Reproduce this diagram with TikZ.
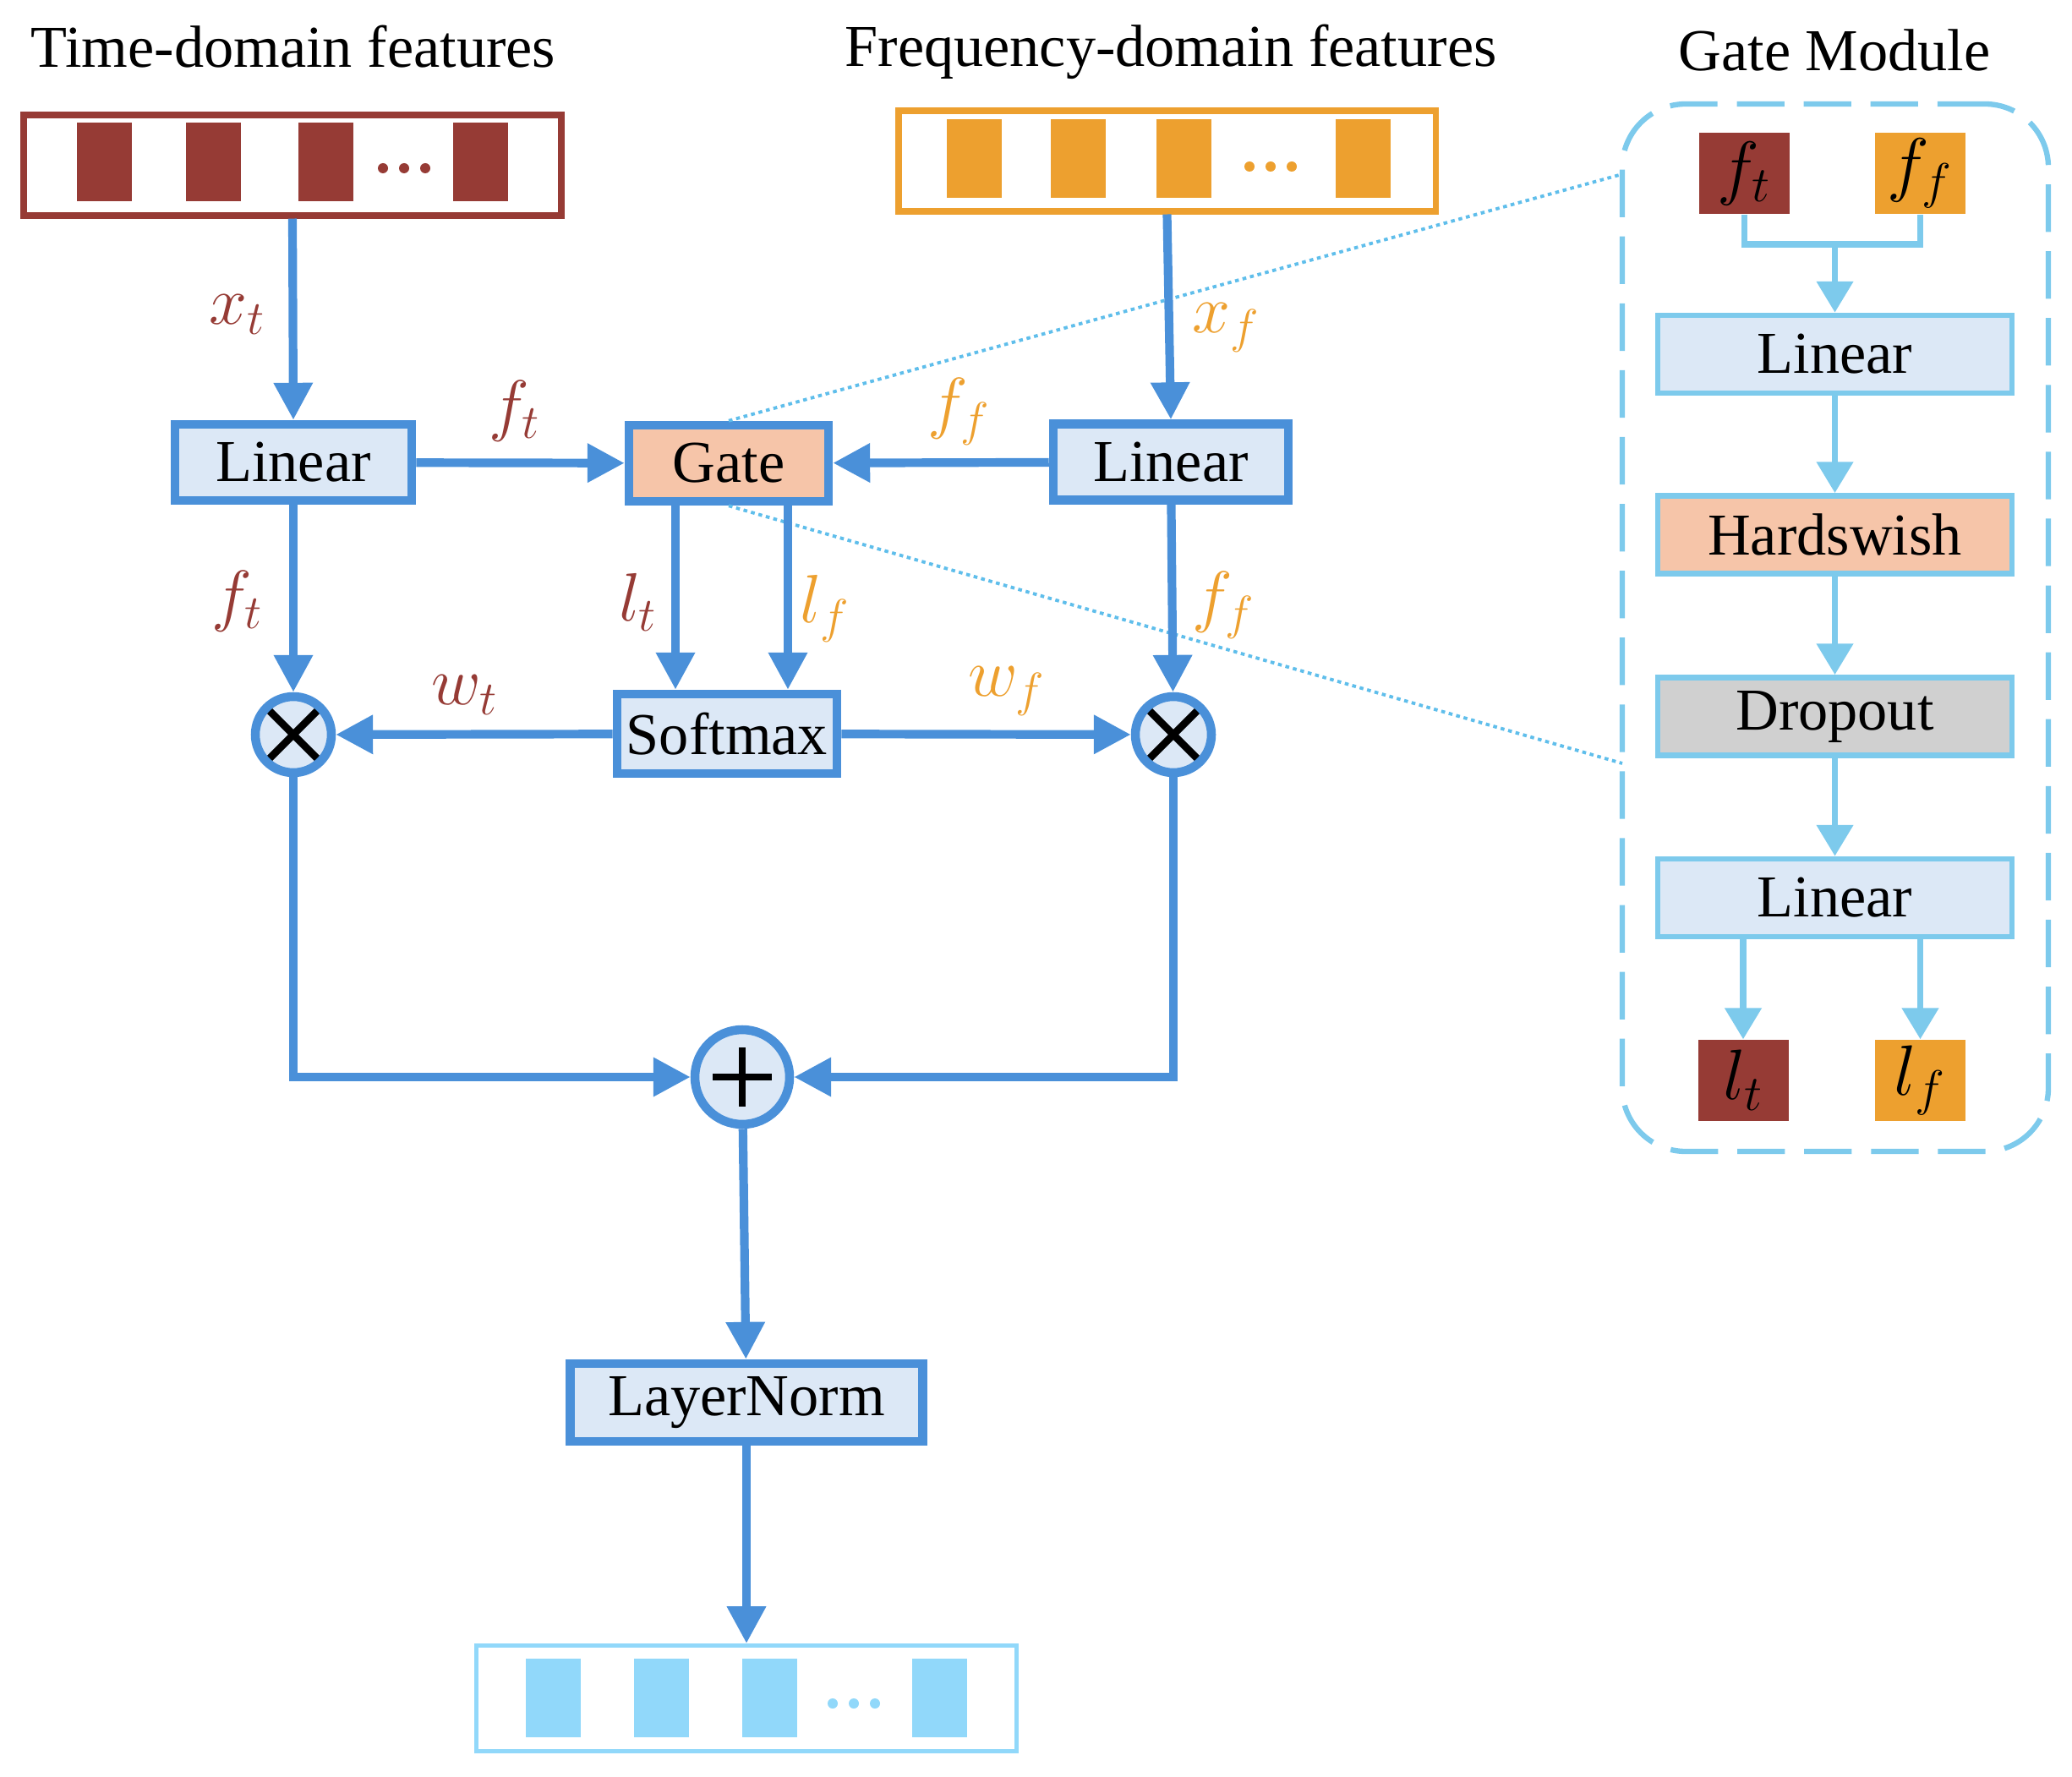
\RequirePackage{fix-cm}
\documentclass[tikz,border=0pt]{standalone}
\usepackage{fontspec}
\setmainfont{Liberation Serif}
\usepackage{amsmath}
\usepackage{xcolor}
\usepackage{tikz}
\usetikzlibrary{arrows.meta}
\definecolor{tred}{RGB}{150, 59, 53}
\definecolor{torange}{RGB}{237, 160, 47}
\definecolor{lineblue}{RGB}{74, 144, 217}
\definecolor{boxblue}{RGB}{220, 232, 246}
\definecolor{gatefill}{RGB}{246, 197, 169}
\definecolor{dropgray}{RGB}{208, 208, 208}
\definecolor{gmblue}{RGB}{125, 202, 236}
\definecolor{outblue}{RGB}{145, 216, 250}
\definecolor{dotblue}{RGB}{95, 190, 235}
\newcommand{\featbar}[3]{
\fill[#3] (#1-0.325,#2-0.465) rectangle (#1+0.325,#2+0.465);
}
\newcommand{\featdots}[3]{
\foreach \d in {-1,0,1} {\fill[#3] (#1+0.25*\d,#2) circle (0.06);}
}

\begin{document}
\begin{tikzpicture}[
    txt/.style={font=\fontsize{20}{24}\selectfont},
    lbl/.style={font=\fontsize{23}{27}\selectfont},
    mainbox/.style={txt, draw=lineblue, line width=3pt, fill=boxblue, inner sep=0pt, minimum height=0.9cm},
    featbox/.style={draw=#1, line width=2pt, fill=white, inner sep=0pt, minimum width=6.36cm, minimum height=1.19cm},
    opnode/.style={circle, draw=lineblue, line width=3pt, fill=boxblue, inner sep=0pt},
    mulnode/.style={opnode, minimum size=0.9cm, path picture={
        \draw[black, line width=2.5pt]
            ([shift={(-0.3,-0.3)}]path picture bounding box.center) -- ([shift={(0.3,0.3)}]path picture bounding box.center)
            ([shift={(-0.3,0.3)}]path picture bounding box.center) -- ([shift={(0.3,-0.3)}]path picture bounding box.center);
    }},
    addnode/.style={opnode, minimum size=1.12cm, path picture={
        \draw[black, line width=2.2pt]
            ([shift={(-0.35,0)}]path picture bounding box.center) -- ([shift={(0.35,0)}]path picture bounding box.center)
            ([shift={(0,0.35)}]path picture bounding box.center) -- ([shift={(0,-0.35)}]path picture bounding box.center);
    }},
    flow/.style={draw=lineblue, line width=2.9pt, -{Triangle[length=12.5pt, width=12.5pt]}},
    gmframe/.style={draw=gmblue, line width=1.8pt, dash pattern=on 16pt off 6.5pt, rounded corners=0.75cm, inner sep=0pt},
    gmbox/.style={txt, draw=gmblue, line width=1.9pt, fill=boxblue, inner sep=0pt, minimum width=4.19cm, minimum height=0.92cm},
    gmvar/.style={font=\fontsize{24}{28}\selectfont, fill=#1, inner sep=0pt, minimum width=1.07cm, minimum height=0.96cm},
    gline/.style={draw=gmblue, line width=2.1pt},
    gflow/.style={gline, -{Triangle[length=10.5pt, width=12pt]}},
    zoomline/.style={draw=dotblue, line width=1.1pt, dash pattern=on 1.3pt off 1.3pt},
]
    \useasboundingbox (0,0) rectangle (24.51,-21.02);

    % titles
    \node[txt, anchor=base] (ttitle) at (3.47,-0.80) {Time-domain features};
    \node[txt, anchor=base] (ftitle) at (13.85,-0.79) {Frequency-domain features};
    \node[txt, anchor=base] (gtitle) at (21.70,-0.84) {Gate Module};

    % input features
    \node[featbox=tred] (tfeat) at (3.46,-1.955) {};
    \foreach \x in {1.235, 2.525, 3.855, 5.685} {\featbar{\x}{-1.915}{tred}}
    \featdots{4.78}{-1.99}{tred}
    \node[featbox=torange, minimum width=6.35cm] (ffeat) at (13.805,-1.905) {};
    \foreach \x in {11.52, 12.75, 14.00, 16.12} {\featbar{\x}{-1.875}{torange}}
    \featdots{15.03}{-1.97}{torange}

    % zoom lines to the gate module
    \coordinate (ztop) at (19.19,-2.06);
    \coordinate (zbot) at (19.19,-9.03);

    % main blocks
    \node[mainbox, minimum width=2.8cm] (tlin) at (3.47,-5.47) {Linear};
    \node[mainbox, minimum width=2.36cm, fill=gatefill] (gate) at (8.62,-5.48) {Gate};
    \node[mainbox, minimum width=2.78cm] (flin) at (13.85,-5.465) {Linear};
    \node[mainbox, minimum width=2.6cm, minimum height=0.94cm] (soft) at (8.60,-8.68) {Softmax};
    \node[mulnode] (tmul) at (3.47,-8.69) {};
    \node[mulnode] (fmul) at (13.88,-8.69) {};
    \node[addnode] (add) at (8.78,-12.74) {};
    \node[mainbox, minimum width=4.17cm, minimum height=0.92cm] (lnorm) at (8.83,-16.59) {LayerNorm};

    % output features
    \node[featbox=outblue, line width=1.4pt, minimum width=6.39cm, minimum height=1.25cm] (out) at (8.83,-20.09) {};
    \foreach \x in {6.54, 7.82, 9.10, 11.115} {\featbar{\x}{-20.08}{outblue}}
    \featdots{10.10}{-20.15}{outblue}

    \draw[zoomline] (gate.north) -- (ztop);
    \draw[zoomline] (gate.south) -- (zbot);

    % connectors
    \draw[flow] (tfeat.south) -- (tlin.north);
    \draw[flow] (ffeat.south) -- (flin.north);
    \draw[flow] (tlin) -- (gate);
    \draw[flow] (flin) -- (gate);
    \draw[flow] (tlin) -- (tmul);
    \draw[flow] (flin) -- (fmul);
    \coordinate (gl) at ([xshift=-0.63cm]gate.south);
    \coordinate (gr) at ([xshift=0.70cm]gate.south);
    \draw[flow] (gl) -- (gl |- soft.north);
    \draw[flow] (gr) -- (gr |- soft.north);
    \draw[flow] (soft) -- (tmul);
    \draw[flow] (soft) -- (fmul);
    \draw[flow] (tmul.south) |- (add.west);
    \draw[flow] (fmul.south) |- (add.east);
    \draw[flow] (add) -- (lnorm);
    \draw[flow] (lnorm) -- (out);

    % labels
    \node[lbl, text=tred] (xt) at (2.81,-3.72) {$x_t$};
    \node[lbl, text=torange] (xf) at (14.51,-3.88) {$x_f$};
    \node[lbl, text=tred] (ft1) at (6.09,-4.86) {$f_t$};
    \node[lbl, text=torange] (ff1) at (11.35,-4.87) {$f_f$};
    \node[lbl, text=tred] (ft2) at (2.81,-7.11) {$f_t$};
    \node[lbl, text=tred] (lt) at (7.55,-7.12) {$l_t$};
    \node[lbl, text=torange] (lf) at (9.76,-7.20) {$l_f$};
    \node[lbl, text=torange] (ff2) at (14.48,-7.16) {$f_f$};
    \node[lbl, text=tred] (wt) at (5.50,-8.22) {$w_t$};
    \node[lbl, text=torange] (wf) at (11.91,-8.18) {$w_f$};

    % gate module
    \node[gmframe, minimum width=5.04cm, minimum height=12.39cm] (gmod) at (21.71,-7.425) {};
    \node[gmvar=tred] (gft) at (20.635,-2.05) {$f_t$};
    \node[gmvar=torange] (gff) at (22.715,-2.05) {$f_f$};
    \node[gmbox] (glin1) at (21.705,-4.19) {Linear};
    \node[gmbox, fill=gatefill] (ghsw) at (21.705,-6.325) {Hardswish};
    \node[gmbox, fill=dropgray] (gdrop) at (21.705,-8.475) {Dropout};
    \node[gmbox] (glin2) at (21.705,-10.62) {Linear};
    \node[gmvar=tred] (glt) at (20.62,-12.78) {$l_t$};
    \node[gmvar=torange] (glf) at (22.715,-12.78) {$l_f$};

    \coordinate (gjoin) at (21.705,-2.89);
    \draw[gline] (gft.south) |- (gjoin) -| (gff.south);
    \draw[gflow] (gjoin) -- (glin1.north);
    \draw[gflow] (glin1) -- (ghsw);
    \draw[gflow] (ghsw) -- (gdrop);
    \draw[gflow] (gdrop) -- (glin2);
    \draw[gflow] (glin2.south -| glt) -- (glt);
    \draw[gflow] (glin2.south -| glf) -- (glf);
\end{tikzpicture}
\end{document}
